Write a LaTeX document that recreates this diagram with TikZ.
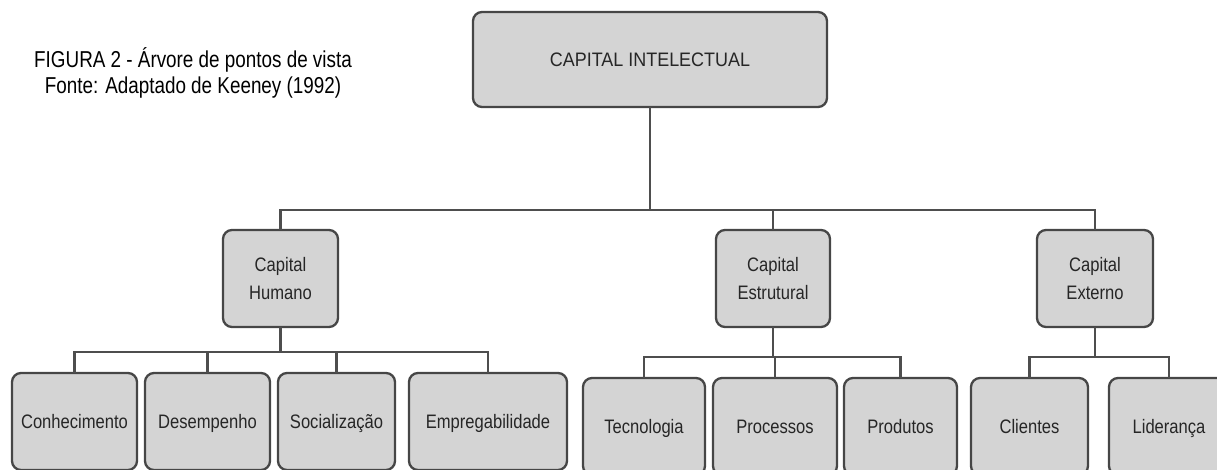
\documentclass[tikz,border=0pt]{standalone}
\usepackage{fontspec}
\setmainfont{Liberation Sans}
\newfontfamily\narrowfont[FakeStretch=0.82]{Liberation Sans}
\newfontfamily\boxfont[FakeStretch=0.85]{Liberation Sans}

\definecolor{boxfill}{HTML}{D4D4D4}
\definecolor{boxline}{HTML}{464646}
\definecolor{linkline}{HTML}{4E4E4E}

\tikzset{
  tree-box/.style={draw=boxline, fill=boxfill, line width=2.3pt, rounded corners=9pt,
    inner sep=0pt, outer sep=0pt, align=center, text=black!85,
    font={\boxfont\fontsize{19.5}{28}\selectfont}},
  cap-box/.style={tree-box, minimum width=354pt, minimum height=95pt,
    font={\boxfont\addfontfeature{FakeStretch=0.92}\fontsize{19.5}{19.5}\selectfont}},
  sub-box/.style={tree-box, minimum height=97pt},
  leaf-box/.style={tree-box, minimum height=97pt, text depth=0pt},
  link/.style={draw=linkline, line width=2.2pt}
}

\begin{document}
\begin{tikzpicture}[x=1pt, y=-1pt]

\useasboundingbox (0,0) rectangle (1217,470);
\clip (0,0) rectangle (1217,470);

\node [align=center, font={\narrowfont\fontsize{23}{26}\selectfont}] (caption)
 at (193, 73) {FIGURA 2 - Árvore de pontos de vista\\Fonte: Adaptado de Keeney (1992)};

\node [cap-box] (cap) at (650, 59.5) {CAPITAL INTELECTUAL};

%\node [cap-box, minimum width=330pt] (cap) at (648, 59.5) {CAPITAL INTELECTUAL};

\node [sub-box, minimum width=115pt] (hum) at (280.5, 278.5) {Capital\\Humano};
\node [sub-box, minimum width=114pt] (est) at (773, 278.5) {Capital\\Estrutural};
\node [sub-box, minimum width=116pt] (ext) at (1095, 278.5) {Capital\\Externo};


\node [leaf-box, minimum width=125pt] (con) at (74.5, 421.5) {Conhecimento};
\node [leaf-box, minimum width=125pt] (des) at (207.5, 421.5) {Desempenho};
\node [leaf-box, minimum width=117pt] (soc) at (336.5, 421.5) {Socialização};
\node [leaf-box, minimum width=158pt] (emp) at (488, 421.5) {Empregabilidade};

\node [leaf-box, minimum width=122pt] (tec) at (644, 426.5) {Tecnologia};
\node [leaf-box, minimum width=124pt] (pro) at (775, 426.5) {Processos};
\node [leaf-box, minimum width=113pt] (prd) at (900.5, 426.5) {Produtos};

\node [leaf-box, minimum width=117pt] (cli) at (1029.5, 426.5) {Clientes};
\node [leaf-box, minimum width=120pt] (lid) at (1169, 426.5) {Liderança};


% joints of the tree
\coordinate (j0) at ([yshift=-103pt]cap.south);
\coordinate (j1) at ([yshift=-25pt]hum.south);
\coordinate (j2) at ([yshift=-30pt]est.south);
\coordinate (j3) at (ext.south |- j2);

\draw [link] (cap.south) -- (j0);
\draw [link] (hum.north) |- (j0) -| (ext.north);
\draw [link] (j0) -| (est.north);

\draw [link] (hum.south) -- (j1);
\foreach \leaf in {con, des, soc, emp}
  \draw [link] (j1) -| (\leaf.north);

\draw [link] (est.south) -- (j2);
\foreach \leaf in {tec, pro, prd}
  \draw [link] (j2) -| (\leaf.north);

\draw [link] (ext.south) -- (j3);
\foreach \leaf in {cli, lid}
  \draw [link] (j3) -| (\leaf.north);

\end{tikzpicture}
\end{document}
